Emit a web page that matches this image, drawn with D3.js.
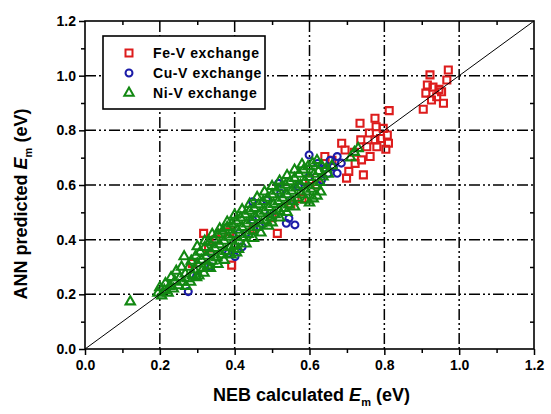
<!DOCTYPE html>
<html>
<head>
<meta charset="utf-8">
<script src="https://cdn.jsdelivr.net/npm/d3@7"></script>
<style>
  body { margin: 0; background: #fff; }
  svg text { font-family: "Liberation Sans", Arial, sans-serif; font-weight: bold; fill: #000; }
</style>
</head>
<body>
<div id="chart"></div>
<script>
// Series names (legend order)
var seriesNames = ["Fe-V exchange", "Cu-V exchange", "Ni-V exchange"];

// Axis ticks
var majorTicks = [0.0, 0.2, 0.4, 0.6, 0.8, 1.0, 1.2];
var minorTicks = [0.1, 0.3, 0.5, 0.7, 0.9, 1.1];

// Fe-V exchange: [NEB calculated, ANN predicted] (eV)
var feData = [
  [0.922, 1.003], [0.915, 0.966], [0.911, 0.936], [0.904, 0.877], [0.926, 0.911],
  [0.953, 0.941], [0.971, 1.021], [0.967, 0.984], [0.958, 0.899], [0.940, 0.923],
  [0.946, 0.950], [0.930, 0.958],
  [0.813, 0.872], [0.775, 0.844], [0.735, 0.826], [0.778, 0.813], [0.808, 0.783],
  [0.811, 0.753], [0.804, 0.731], [0.780, 0.740], [0.775, 0.765], [0.737, 0.765],
  [0.739, 0.692], [0.744, 0.637], [0.722, 0.679], [0.686, 0.753], [0.695, 0.728],
  [0.699, 0.625], [0.753, 0.740], [0.762, 0.704], [0.797, 0.807], [0.760, 0.790],
  [0.720, 0.720], [0.790, 0.770], [0.641, 0.704], [0.660, 0.690], [0.705, 0.650],
  [0.317, 0.423], [0.366, 0.423], [0.387, 0.429], [0.287, 0.313], [0.392, 0.307],
  [0.514, 0.423], [0.350, 0.400], [0.330, 0.370], [0.450, 0.440], [0.500, 0.480],
  [0.550, 0.530], [0.580, 0.550], [0.620, 0.600], [0.600, 0.620]
];

// Cu-V exchange
var cuData = [
  [0.599, 0.710], [0.517, 0.606], [0.448, 0.539], [0.401, 0.338], [0.276, 0.210],
  [0.538, 0.460], [0.561, 0.454], [0.545, 0.478], [0.674, 0.704], [0.664, 0.667],
  [0.650, 0.643], [0.632, 0.618], [0.674, 0.643], [0.622, 0.679], [0.523, 0.570],
  [0.495, 0.496], [0.430, 0.423], [0.383, 0.350], [0.336, 0.301], [0.298, 0.265],
  [0.485, 0.545], [0.552, 0.545], [0.570, 0.594], [0.599, 0.630], [0.467, 0.448],
  [0.420, 0.374], [0.448, 0.472], [0.411, 0.423], [0.336, 0.350], [0.655, 0.690],
  [0.640, 0.660], [0.685, 0.680]
];

// Ni-V exchange
var niData = [
  [0.195, 0.205], [0.200, 0.225], [0.205, 0.195], [0.212, 0.215], [0.215, 0.240],
  [0.222, 0.205], [0.226, 0.230], [0.230, 0.262], [0.236, 0.220], [0.240, 0.248],
  [0.244, 0.285], [0.250, 0.232], [0.254, 0.262], [0.258, 0.300], [0.265, 0.338],
  [0.262, 0.245], [0.268, 0.275], [0.274, 0.258], [0.278, 0.300], [0.284, 0.322],
  [0.288, 0.270], [0.292, 0.290], [0.296, 0.340], [0.300, 0.312], [0.304, 0.268],
  [0.308, 0.355], [0.312, 0.325], [0.316, 0.295], [0.320, 0.372], [0.325, 0.340],
  [0.328, 0.305], [0.332, 0.390], [0.336, 0.355], [0.340, 0.322], [0.345, 0.400],
  [0.348, 0.368], [0.352, 0.335], [0.356, 0.418], [0.360, 0.382], [0.364, 0.345],
  [0.368, 0.432], [0.372, 0.395], [0.376, 0.358], [0.380, 0.445], [0.384, 0.410],
  [0.388, 0.372], [0.392, 0.458], [0.396, 0.420], [0.400, 0.380], [0.404, 0.468],
  [0.408, 0.435], [0.412, 0.395], [0.405, 0.352], [0.416, 0.480], [0.420, 0.445],
  [0.424, 0.408], [0.428, 0.492], [0.432, 0.458], [0.436, 0.420], [0.440, 0.505],
  [0.444, 0.470], [0.448, 0.432], [0.452, 0.515], [0.456, 0.482], [0.460, 0.445],
  [0.464, 0.528], [0.468, 0.495], [0.472, 0.458], [0.476, 0.540], [0.480, 0.505],
  [0.484, 0.470], [0.488, 0.552], [0.492, 0.518], [0.496, 0.480], [0.500, 0.565],
  [0.504, 0.530], [0.508, 0.492], [0.512, 0.578], [0.516, 0.540], [0.520, 0.505],
  [0.524, 0.590], [0.528, 0.552], [0.532, 0.515], [0.536, 0.600], [0.540, 0.565],
  [0.544, 0.528], [0.548, 0.612], [0.552, 0.578], [0.556, 0.540], [0.560, 0.625],
  [0.564, 0.590], [0.568, 0.552], [0.572, 0.640], [0.576, 0.600], [0.580, 0.565],
  [0.584, 0.655], [0.588, 0.615], [0.592, 0.575], [0.596, 0.668], [0.600, 0.628],
  [0.604, 0.585], [0.608, 0.680], [0.612, 0.640], [0.616, 0.598], [0.620, 0.690],
  [0.624, 0.650], [0.628, 0.610], [0.632, 0.672], [0.636, 0.630], [0.645, 0.660],
  [0.650, 0.640], [0.660, 0.670], [0.590, 0.545], [0.600, 0.535], [0.610, 0.550],
  [0.620, 0.560], [0.630, 0.575], [0.121, 0.173], [0.730, 0.734], [0.720, 0.720],
  [0.710, 0.700],
  [0.270, 0.230], [0.282, 0.245], [0.298, 0.262], [0.318, 0.278], [0.335, 0.295],
  [0.355, 0.310], [0.372, 0.325], [0.390, 0.345], [0.410, 0.365], [0.430, 0.385],
  [0.450, 0.405], [0.470, 0.425], [0.490, 0.450], [0.300, 0.375], [0.320, 0.395],
  [0.340, 0.420], [0.360, 0.440], [0.380, 0.465], [0.400, 0.490], [0.420, 0.510],
  [0.440, 0.530], [0.460, 0.555], [0.480, 0.575], [0.500, 0.595], [0.520, 0.615],
  [0.540, 0.635], [0.560, 0.655], [0.580, 0.675], [0.560, 0.520], [0.540, 0.500],
  [0.520, 0.480], [0.500, 0.462]
];

var W = 551, H = 414;
var margin = { top: 21, right: 17, bottom: 65, left: 85 };
var width = W - margin.left - margin.right;
var height = H - margin.top - margin.bottom;

var x = d3.scaleLinear().domain([0, 1.2]).range([0, width]);
var y = d3.scaleLinear().domain([0, 1.2]).range([height, 0]);

var colors = ["#dd1c1c", "#1c1ca8", "#128812"];
var fmt = d3.format(".1f");

var svg = d3.select("#chart").append("svg")
  .attr("width", W)
  .attr("height", H);

var g = svg.append("g")
  .attr("transform", "translate(" + margin.left + "," + margin.top + ")");

// Grid (dash-dot-dot)
var gridTicks = majorTicks.slice(1, -1);
var dash = "11,3,2,3,2,3";
g.selectAll(".vgrid").data(gridTicks).enter().append("line")
  .attr("x1", function(d) { return x(d); }).attr("x2", function(d) { return x(d); })
  .attr("y1", 0).attr("y2", height)
  .attr("stroke", "#000").attr("stroke-width", 1.5).attr("stroke-dasharray", dash);
g.selectAll(".hgrid").data(gridTicks).enter().append("line")
  .attr("y1", function(d) { return y(d); }).attr("y2", function(d) { return y(d); })
  .attr("x1", 0).attr("x2", width)
  .attr("stroke", "#000").attr("stroke-width", 1.5).attr("stroke-dasharray", dash);

// Axes
var axisB = g.append("g").attr("transform", "translate(0," + height + ")")
  .call(d3.axisBottom(x).tickValues(majorTicks).tickFormat(fmt).tickSize(6).tickPadding(5));
var axisL = g.append("g")
  .call(d3.axisLeft(y).tickValues(majorTicks).tickFormat(fmt).tickSize(6).tickPadding(3));
g.append("g").attr("transform", "translate(0," + height + ")")
  .call(d3.axisBottom(x).tickValues(minorTicks).tickFormat("").tickSize(4));
g.append("g")
  .call(d3.axisLeft(y).tickValues(minorTicks).tickFormat("").tickSize(4));
g.append("g")
  .call(d3.axisTop(x).tickValues(minorTicks).tickFormat("").tickSize(-4));
g.append("g").attr("transform", "translate(" + width + ",0)")
  .call(d3.axisRight(y).tickValues(minorTicks).tickFormat("").tickSize(-4));

g.selectAll(".domain").remove();
g.selectAll(".tick line").attr("stroke", "#000").attr("stroke-width", 1.5);
axisB.selectAll("text").style("font-size", "14px").attr("fill", "#000");
axisL.selectAll("text").style("font-size", "14px").attr("fill", "#000");

// Frame
g.append("rect")
  .attr("width", width).attr("height", height)
  .attr("fill", "none").attr("stroke", "#000").attr("stroke-width", 1.6);

// Markers
var sym = [d3.symbolSquare, d3.symbolCircle, d3.symbolTriangle];
var sizes = [49, 38, 38];
var series = [feData, cuData, niData];

series.forEach(function(data, i) {
  g.selectAll(".s" + i).data(data).enter().append("path")
    .attr("class", "s" + i)
    .attr("d", d3.symbol().type(sym[i]).size(sizes[i]))
    .attr("transform", function(d) { return "translate(" + x(d[0]) + "," + y(d[1]) + ")"; })
    .attr("fill", "none")
    .attr("stroke", colors[i])
    .attr("stroke-width", 2.1);
});

// y = x reference line
g.append("line")
  .attr("x1", x(0)).attr("y1", y(0))
  .attr("x2", x(1.2)).attr("y2", y(1.2))
  .attr("stroke", "#000").attr("stroke-width", 1);

// Legend
var legend = svg.append("g").attr("transform", "translate(103,36)");
legend.append("rect")
  .attr("width", 162).attr("height", 73)
  .attr("fill", "#fff").attr("stroke", "#000").attr("stroke-width", 1.6);
seriesNames.forEach(function(name, i) {
  var ly = 17 + i * 20;
  legend.append("path")
    .attr("d", d3.symbol().type(sym[i]).size(sizes[i]))
    .attr("transform", "translate(26," + ly + ")")
    .attr("fill", "none").attr("stroke", colors[i]).attr("stroke-width", 2);
  legend.append("text")
    .attr("x", 50).attr("y", ly + 5)
    .style("font-size", "14px")
    .style("letter-spacing", "0.6px")
    .text(name);
});

// Axis titles
var xt = svg.append("text")
  .attr("x", margin.left + width / 2 + 2).attr("y", 401)
  .attr("text-anchor", "middle")
  .style("font-size", "18px");
xt.append("tspan").text("NEB calculated ");
xt.append("tspan").style("font-style", "italic").text("E");
xt.append("tspan").attr("dy", 5).style("font-size", "11px").text("m");
xt.append("tspan").attr("dy", -5).text(" (eV)");

var yt = svg.append("text")
  .attr("transform", "translate(27,204) rotate(-90)")
  .attr("text-anchor", "middle")
  .style("font-size", "18px");
yt.append("tspan").text("ANN predicted ");
yt.append("tspan").style("font-style", "italic").text("E");
yt.append("tspan").attr("dy", 5).style("font-size", "11px").text("m");
yt.append("tspan").attr("dy", -5).text(" (eV)");
</script>
</body>
</html>
